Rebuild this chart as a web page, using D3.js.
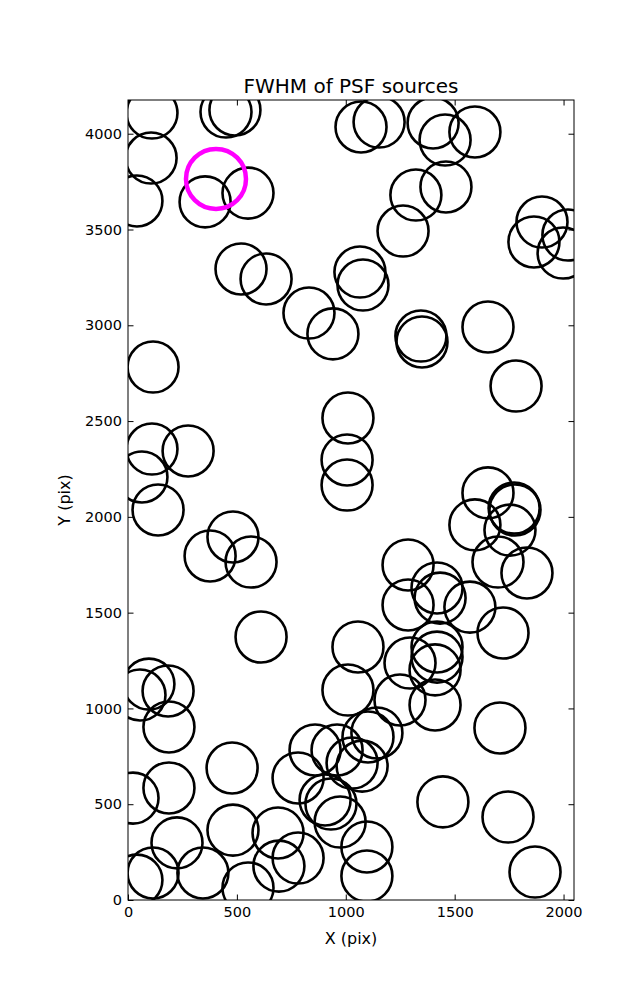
<!DOCTYPE html>
<html><head><meta charset="utf-8">
<script src="https://cdn.jsdelivr.net/npm/d3@7"></script>
<style>body{margin:0;background:#fff;} text{font-family:"DejaVu Sans",sans-serif;fill:#000;}</style>
</head><body><svg id="c" width="637" height="1000"></svg>
<script>
// PSF source positions (detector pixels)
const srcX = [110,106,41,450,491,354,551,1070,1153,1401,1456,1593,1322,1460,1263,1901,1864,2020,1998,519,
  634,1065,1079,831,941,1345,1350,1653,115,1782,1010,110,276,64,1006,1006,1653,138,1773,1777,
  1593,1754,482,377,565,1286,1699,1832,1419,1433,1286,1570,611,1722,1056,1419,1419,1410,1295,96,
  55,184,1010,1249,1410,188,1708,478,188,23,1446,1745,225,482,115,41,344,551,1869,
  1143,1102,859,960,1029,1075,781,905,932,974,1097,1097,689,781,693];
const srcY = [4108,3873,3649,4113,4124,3644,3690,4035,4061,4056,3967,4009,3680,3722,3492,3539,3435,3471,3377,3294,
  3242,3278,3210,3064,2955,2944,2913,2991,2782,2683,2516,2354,2344,2208,2297,2166,2125,2036,2046,2036,
  1958,1931,1895,1796,1764,1749,1764,1707,1629,1576,1540,1529,1373,1394,1321,1321,1268,1201,1237,1127,
  1070,1091,1096,1044,1018,903,898,689,585,532,512,433,298,365,141,104,141,63,146,
  872,851,783,783,715,699,637,522,501,407,277,125,350,219,177];
// highlighted source
const markX = [404];
const markY = [3764];
const xTicks = [0,500,1000,1500,2000];
const yTicks = [0,500,1000,1500,2000,2500,3000,3500,4000];
const title = "FWHM of PSF sources";
const xLabel = "X (pix)";
const yLabel = "Y (pix)";

const svg = d3.select("#c");
const L = 128, R = 574, T = 100, B = 900;
const x = d3.scaleLinear().domain([0, 2048]).range([L, R]);
const y = d3.scaleLinear().domain([0, 4176]).range([B, T]);

svg.append("defs").append("clipPath").attr("id","clip")
  .append("rect").attr("x",L).attr("y",T).attr("width",R-L).attr("height",B-T);

const g = svg.append("g").attr("clip-path","url(#clip)");
const pts = srcX.map((v,i)=>({x:v,y:srcY[i]}));
g.selectAll("circle.src").data(pts).enter().append("circle")
  .attr("class","src")
  .attr("cx",d=>x(d.x)).attr("cy",d=>y(d.y)).attr("r",25.5)
  .attr("fill","none").attr("stroke","#000").attr("stroke-width",2.6);
const mk = markX.map((v,i)=>({x:v,y:markY[i]}));
g.selectAll("circle.mk").data(mk).enter().append("circle")
  .attr("class","mk")
  .attr("cx",d=>x(d.x)).attr("cy",d=>y(d.y)).attr("r",30)
  .attr("fill","none").attr("stroke","#ff00ff").attr("stroke-width",4.5);

const tl = 5.5;
function style(sel, fs){
  sel.select(".domain").remove();
  sel.selectAll(".tick line").attr("stroke","#000").attr("stroke-width",1);
  sel.selectAll(".tick text").style("font-size",fs+"px").attr("font-family","DejaVu Sans");
}
const ax = svg.append("g").attr("transform",`translate(0,${B})`)
  .call(d3.axisBottom(x).tickValues(xTicks).tickFormat(d3.format("d")).tickSizeInner(-tl).tickSizeOuter(0).tickPadding(7));
style(ax,14.5);
const axT = svg.append("g").attr("transform",`translate(0,${T})`)
  .call(d3.axisTop(x).tickValues(xTicks).tickFormat("").tickSizeInner(-tl).tickSizeOuter(0));
style(axT,14.5);
const ay = svg.append("g").attr("transform",`translate(${L},0)`)
  .call(d3.axisLeft(y).tickValues(yTicks).tickFormat(d3.format("d")).tickSizeInner(-tl).tickSizeOuter(0).tickPadding(6));
style(ay,14.5);
const ayR = svg.append("g").attr("transform",`translate(${R},0)`)
  .call(d3.axisRight(y).tickValues(yTicks).tickFormat("").tickSizeInner(-tl).tickSizeOuter(0));
style(ayR,14.5);

svg.append("rect").attr("x",L).attr("y",T).attr("width",R-L).attr("height",B-T)
  .attr("fill","none").attr("stroke","#000").attr("stroke-width",1);

svg.append("text").attr("x",(L+R)/2).attr("y",93).attr("text-anchor","middle")
  .style("font-size","20px").text(title);
svg.append("text").attr("x",(L+R)/2).attr("y",944).attr("text-anchor","middle")
  .style("font-size","16px").text(xLabel);
svg.append("text").attr("transform",`translate(70,${(T+B)/2}) rotate(-90)`).attr("text-anchor","middle")
  .style("font-size","16px").text(yLabel);
</script></body></html>
